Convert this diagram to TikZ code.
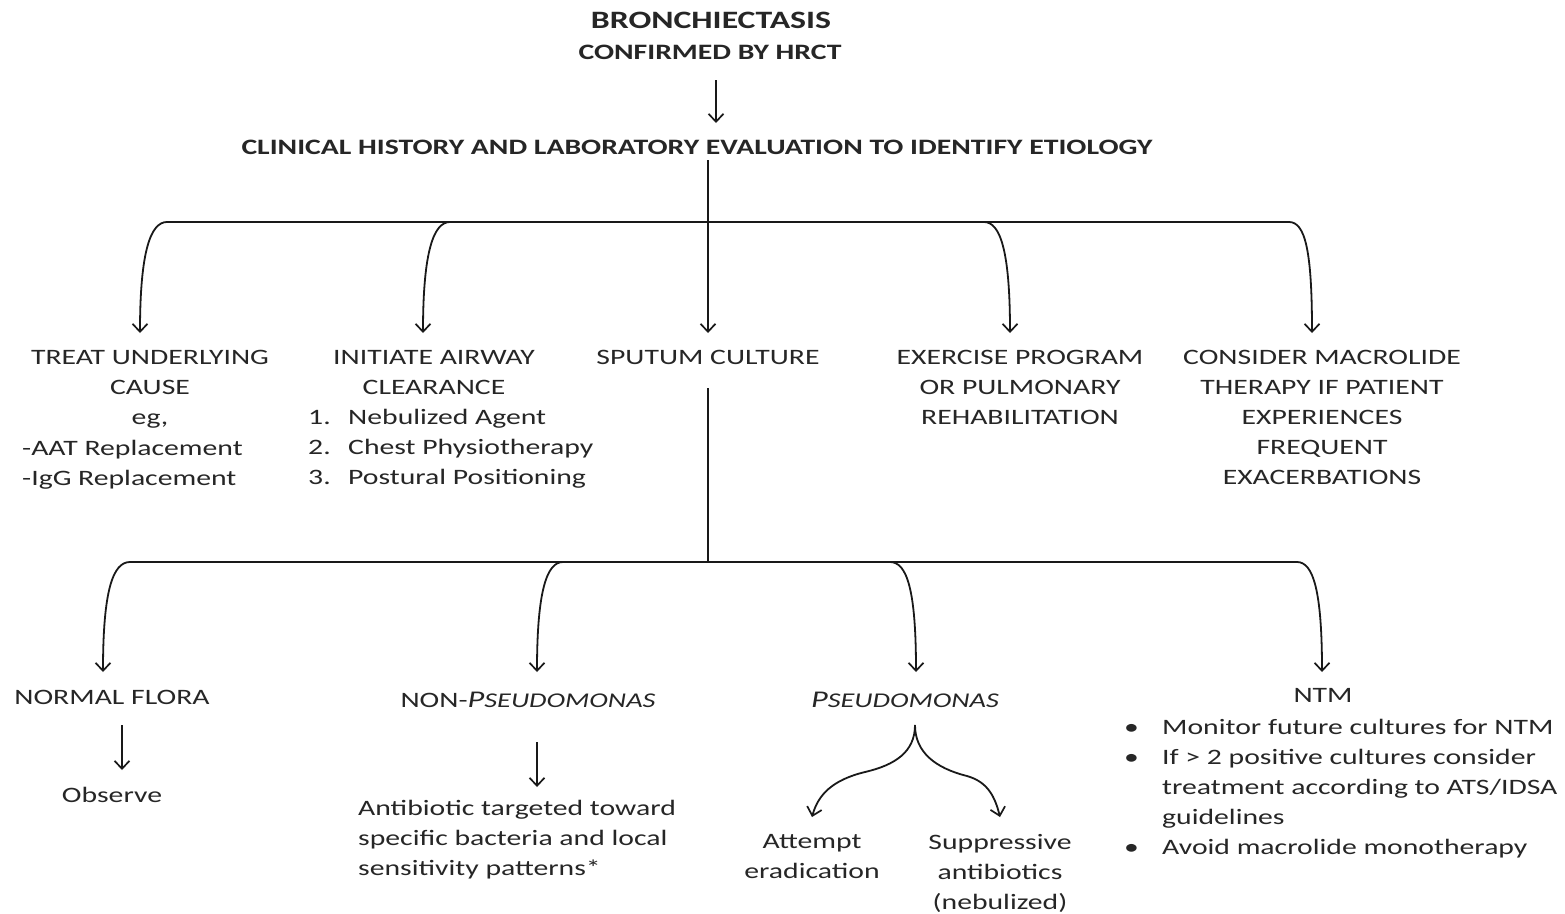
\documentclass[tikz,border=0pt]{standalone}
\usepackage{fontspec}
\setmainfont{Carlito}[FakeStretch=1.35]
\usetikzlibrary{arrows.meta}
\newcommand\pseud{\textit{{\fontsize{24}{30}\selectfont P}{\fontsize{21}{30}\selectfont SEUDOMONAS}}}
\begin{document}
\begin{tikzpicture}[x=1pt,y=-1pt,
  txt/.style={inner sep=0pt, text=black!85, font=\fontsize{22}{30}\selectfont, align=center},
  ml/.style={txt, execute at begin node=\rule{0pt}{21pt}},
  hd/.style={txt, font=\fontsize{22}{30}\selectfont\bfseries},
  conn/.style={line width=1.8pt, draw=black!90},
  arr/.style={conn, -{Straight Barb[length=8pt,width=15pt,line width=1.7pt]}},
]
\useasboundingbox (0,0) rectangle (1565,913);

% ---------- nodes ----------
\node[hd, anchor=base, font=\fontsize{25}{30}\selectfont\bfseries] (title) at (711,28) {BRONCHIECTASIS};
\node[hd, anchor=base] (conf) at (710,59) {CONFIRMED BY HRCT};
\node[hd, anchor=base] (clin) at (697,154) {CLINICAL HISTORY AND LABORATORY EVALUATION TO IDENTIFY ETIOLOGY};

\node[ml, anchor=north] (treat) at (150,350) {TREAT UNDERLYING\\CAUSE\\eg,};
\node[ml, anchor=north west, align=left] (treatlist) at (22,440) {-AAT Replacement\\-IgG Replacement};
\node[ml, anchor=north] (airway) at (434,350) {INITIATE AIRWAY\\CLEARANCE};
\node[txt, anchor=north west, align=left] (airlist) at (308,403)
  {\begin{tabular}{@{}p{40pt}@{}l@{}}1. & Nebulized Agent\\ 2. & Chest Physiotherapy\\ 3. & Postural Positioning\end{tabular}};
\node[txt, anchor=base] (sputum) at (708,364) {SPUTUM CULTURE};
\node[ml, anchor=north] (exercise) at (1020,350) {EXERCISE PROGRAM\\OR PULMONARY\\REHABILITATION};
\node[ml, anchor=north] (macro) at (1322,350) {CONSIDER MACROLIDE\\THERAPY IF PATIENT\\EXPERIENCES\\FREQUENT\\EXACERBATIONS};

\node[txt, anchor=base] (normal) at (112,704) {NORMAL FLORA};
\node[txt, anchor=base] (nonps) at (528,707) {NON-\pseud};
\node[txt, anchor=base] (pseud) at (905,707) {\pseud};
\node[txt, anchor=base] (ntm) at (1323,702) {NTM};
\node[txt, anchor=north west, align=left] (ntmlist) at (1124,713)
  {\begin{tabular}{@{}p{38pt}@{}l@{}}\textbullet & Monitor future cultures for NTM\\
   \textbullet & If > 2 positive cultures consider\\
   & treatment according to ATS/IDSA\\
   & guidelines\\
   \textbullet & Avoid macrolide monotherapy\end{tabular}};

\node[txt, anchor=base] (observe) at (112,802) {Observe};
\node[ml, anchor=north west, align=left] (antib) at (358,800) {Antibiotic targeted toward\\specific bacteria and local\\sensitivity patterns*};
\node[ml, anchor=north] (attempt) at (812,834) {Attempt\\eradication};
\node[ml, anchor=north] (suppr) at (1000,834) {Suppressive\\antibiotics\\(nebulized)};

% ---------- connector points ----------
\coordinate (a0) at (716,80);   \coordinate (a0t) at (716,123);
\coordinate (v0) at (708,160);  \coordinate (v0t) at (708,333);
\coordinate (bL) at (167,222);  \coordinate (bR) at (1289,222);
\coordinate (b2) at (450,222);  \coordinate (b4) at (984,222);
\coordinate (tTreat) at (140,333); \coordinate (tAir) at (423,333);
\coordinate (tEx) at (1010,333);   \coordinate (tMac) at (1312,333);
\coordinate (v1) at (708,388);  \coordinate (v1b) at (708,562);
\coordinate (cL) at (130,562);  \coordinate (cR) at (1297,562);
\coordinate (c2) at (563,562);  \coordinate (c3) at (890,562);
\coordinate (tNorm) at (103,672); \coordinate (tNon) at (537,672);
\coordinate (tPs) at (916,672);   \coordinate (tNtm) at (1322,672);
\coordinate (n1) at (122,725);  \coordinate (n1t) at (122,770);
\coordinate (p1) at (537,742);  \coordinate (p1t) at (537,787);
\coordinate (fk) at (915,725);
\coordinate (tAtt) at (812,817); \coordinate (tSup) at (1000,817);

% ---------- connectors ----------
\draw[arr] (a0) -- (a0t);
\draw[arr] (v0) -- (v0t);
\draw[conn] (bL) -- (bR);
\draw[arr] (bL) .. controls (151,222) and (140,250) .. (tTreat);
\draw[arr] (b2) .. controls (434,222) and (423,250) .. (tAir);
\draw[arr] (b4) .. controls (1000,222) and (1010,250) .. (tEx);
\draw[arr] (bR) .. controls (1305,222) and (1312,250) .. (tMac);

\draw[conn] (v1) -- (v1b);
\draw[conn] (cL) -- (cR);
\draw[arr] (cL) .. controls (113,562) and (103,590) .. (tNorm);
\draw[arr] (c2) .. controls (547,562) and (537,590) .. (tNon);
\draw[arr] (c3) .. controls (907,562) and (916,590) .. (tPs);
\draw[arr] (cR) .. controls (1313,562) and (1322,590) .. (tNtm);

\draw[arr] (n1) -- (n1t);
\draw[arr] (p1) -- (p1t);
\draw[arr] (fk) .. controls (915,752) and (895,765) .. (865,772) .. controls (832,780) and (818,795) .. (tAtt);
\draw[arr] (fk) .. controls (915,752) and (935,768) .. (967,776) .. controls (988,782) and (995,797) .. (tSup);
\end{tikzpicture}
\end{document}
